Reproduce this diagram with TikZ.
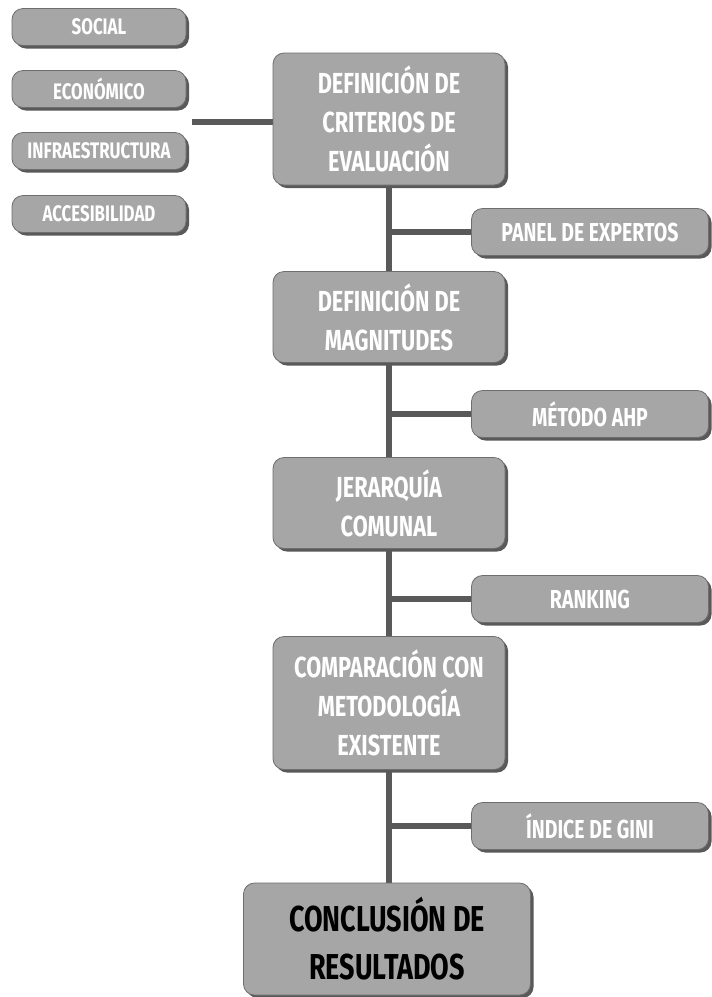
\documentclass[tikz,border=0pt]{standalone}
\usepackage{fontspec}
\setmainfont{Fira Sans}[FakeStretch=0.75,BoldFont={* Bold}]
\usetikzlibrary{shadows,backgrounds}
\definecolor{boxfill}{HTML}{A6A6A6}
\definecolor{boxedge}{HTML}{6E6E6E}
\definecolor{shade}{HTML}{595959}
\definecolor{linec}{HTML}{595959}
\begin{document}
\begin{tikzpicture}[x=1pt,y=-1pt,
  basebox/.style={draw=boxedge, line width=0.8pt, fill=boxfill, rounded corners=11pt,
    align=center, inner sep=0pt,
    drop shadow={shadow xshift=3pt, shadow yshift=-3pt, fill=shade, opacity=1}},
  smallbox/.style={basebox, minimum width=174pt, minimum height=37pt, text=white, font=\bfseries\fontsize{22.5}{24}\selectfont},
  sidebox/.style={basebox, minimum width=237pt, minimum height=47pt, text=white, font=\bfseries\fontsize{26}{27}\selectfont},
  mainbox/.style={basebox, minimum width=232pt, text=white, font=\bfseries\fontsize{29}{39}\selectfont},
  endbox/.style={basebox, minimum width=287pt, minimum height=112pt, text=black, font=\bfseries\fontsize{36}{48}\selectfont},
  conn/.style={draw=linec, line width=6pt}]
\useasboundingbox (0,0) rectangle (712,997);
\node[mainbox, minimum height=132pt] (b1) at (389,119) {DEFINICIÓN DE\\CRITERIOS DE\\EVALUACIÓN};
\node[mainbox, minimum height=91pt] (b2) at (389,317) {DEFINICIÓN DE\\MAGNITUDES};
\node[mainbox, minimum height=91pt] (b3) at (389,503) {JERARQUÍA\\COMUNAL};
\node[mainbox, minimum height=133pt] (b4) at (389,703) {COMPARACIÓN CON\\METODOLOGÍA\\EXISTENTE};
\node[endbox] (b5) at (387,939) {CONCLUSIÓN DE\\RESULTADOS};
\node[smallbox] (s1) at (99,27) {SOCIAL};
\node[smallbox] (s2) at (99,89) {ECONÓMICO};
\node[smallbox] (s3) at (99,151) {INFRAESTRUCTURA};
\node[smallbox] (s4) at (99,214) {ACCESIBILIDAD};
\node[sidebox] (r1) at (590,232) {PANEL DE EXPERTOS};
\node[sidebox] (r2) at (590,414) {MÉTODO AHP};
\node[sidebox] (r3) at (590,599) {RANKING};
\node[sidebox] (r4) at (590,826) {ÍNDICE DE GINI};
\coordinate (lc) at (192,122);
\begin{scope}[on background layer]
\fill[white] (0,0) rectangle (712,997);
\draw[conn] (lc) -- (b1.west |- lc);
\draw[conn] (b1.south) -- (b2.north);
\draw[conn] (b2.south) -- (b3.north);
\draw[conn] (b3.south) -- (b4.north);
\draw[conn] (b4.south) -- (b4.south |- b5.north);
\draw[conn] (b1.south |- r1) -- (r1.west);
\draw[conn] (b2.south |- r2) -- (r2.west);
\draw[conn] (b3.south |- r3) -- (r3.west);
\draw[conn] (b4.south |- r4) -- (r4.west);
\end{scope}
\end{tikzpicture}
\end{document}
